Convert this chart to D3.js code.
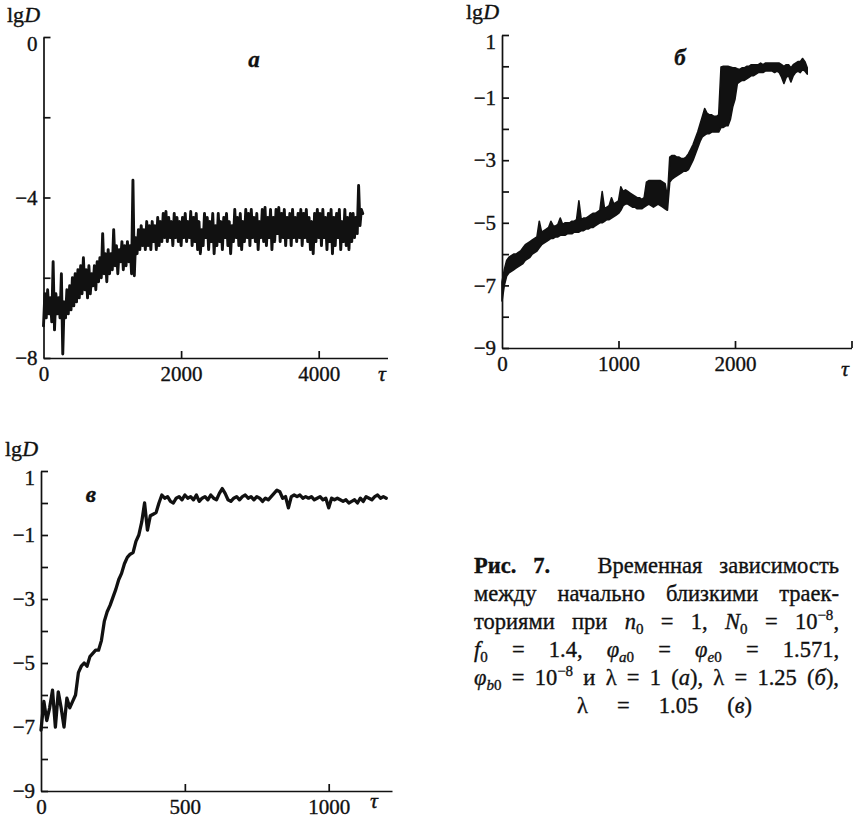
<!DOCTYPE html>
<html><head><meta charset="utf-8">
<script src="https://cdn.jsdelivr.net/npm/d3@7"></script>
<style>
body{margin:0;background:#fff}
svg text{font-family:"Liberation Serif","Times New Roman",serif;fill:#111;stroke:#111;stroke-width:0.35px}
</style></head><body>
<svg id="c" width="853" height="818"></svg>
<script>
// ---------- DATA ----------
// panel а : lgD vs τ, sampled every stepA
const stepA = 20;
const valuesA = [
 -7.2,-6.4,-7.0,-6.3,-6.9,-6.5,-7.1,-5.6,-7.3,-6.4,
 -6.9,-6.5,-7.0,-5.9,-7.9,-6.6,-7.0,-6.3,-6.9,-6.2,
 -6.8,-6.0,-6.7,-5.9,-6.6,-5.8,-6.5,-5.7,-6.4,-5.5,
 -6.3,-5.8,-6.5,-5.7,-6.4,-5.9,-6.2,-5.7,-6.3,-5.6,
 -6.1,-5.5,-6.0,-4.9,-5.9,-5.4,-6.1,-5.3,-5.9,-5.4,
 -5.8,-4.8,-5.7,-5.2,-5.9,-5.3,-5.6,-5.1,-5.8,-5.2,
 -5.7,-5.1,-5.6,-5.2,-5.9,-3.57,-5.95,-5.0,-5.4,-4.8,
 -5.3,-4.7,-5.2,-4.8,-5.3,-4.6,-5.2,-4.7,-5.3,-4.6,
 -5.1,-4.7,-5.3,-4.5,-5.2,-4.6,-5.1,-4.4,-5.0,-4.35,
 -5.1,-4.5,-5.0,-4.6,-5.2,-4.4,-5.0,-4.5,-5.1,-4.6,
 -5.2,-4.5,-5.0,-4.4,-5.1,-4.6,-5.0,-4.35,-5.2,-4.5,
 -5.1,-4.4,-5.3,-4.6,-5.4,-4.8,-5.2,-4.4,-5.0,-4.5,
 -5.3,-4.6,-5.1,-4.4,-5.4,-4.7,-5.2,-4.4,-5.1,-4.6,
 -5.3,-4.5,-5.0,-4.4,-5.2,-4.6,-5.4,-4.7,-5.1,-4.3,
 -5.0,-4.5,-5.2,-4.4,-5.3,-4.6,-5.1,-4.3,-5.0,-4.4,
 -5.2,-4.3,-5.0,-4.5,-5.1,-4.4,-5.3,-4.6,-5.0,-4.3,
 -5.1,-4.25,-5.2,-4.5,-5.0,-4.3,-5.3,-4.5,-5.1,-4.3,
 -4.9,-4.25,-5.1,-4.4,-5.0,-4.3,-5.2,-4.5,-5.0,-4.4,
 -5.2,-4.3,-5.0,-4.5,-5.1,-4.4,-5.0,-4.3,-5.2,-4.4,
 -5.0,-4.3,-5.1,-4.5,-5.3,-4.6,-5.4,-4.4,-5.1,-4.3,
 -5.0,-4.4,-5.2,-4.3,-5.0,-4.5,-5.3,-4.4,-5.1,-4.3,
 -5.4,-4.5,-5.2,-4.4,-5.0,-4.3,-5.3,-4.6,-5.1,-4.3,
 -5.2,-4.5,-5.3,-4.4,-5.1,-4.4,-5.0,-4.5,-4.9,-3.7,
 -4.7,-4.3,-4.4
];
// panel б : rapidly oscillating trace, given as upper / lower edge of its band, every stepB
const stepB = 20;
const upperB = [
 -6.9,-6.5,-6.2,-6.1,-6.05,-6.0,-6.0,-5.95,-5.9,-5.8,
 -5.7,-5.65,-5.6,-5.55,-5.5,-5.45,-4.95,-5.3,-5.25,-5.2,
 -5.15,-4.95,-5.1,-5.1,-5.05,-4.85,-5.05,-5.0,-5.0,-5.0,
 -4.95,-4.95,-4.9,-4.3,-4.9,-4.85,-4.85,-4.8,-4.75,-4.7,
 -4.7,-4.65,-4.6,-4.0,-4.55,-4.5,-4.45,-4.2,-4.4,-4.35,
 -4.3,-3.85,-4.0,-3.95,-4.0,-4.05,-4.1,-4.15,-4.2,-4.2,
 -4.25,-4.2,-3.7,-3.65,-3.65,-3.65,-3.65,-3.65,-3.65,-3.7,
 -3.75,-4.2,-2.9,-2.85,-2.85,-2.9,-2.9,-2.95,-2.95,-2.9,
 -2.8,-2.65,-2.5,-2.3,-2.1,-1.85,-1.6,-1.35,-1.5,-1.55,
 -1.55,-1.6,-1.6,-1.55,-0.02,0.0,0.0,0.0,-0.02,-0.05,
 -0.05,-0.08,-0.1,-0.05,-0.05,0.0,0.0,0.05,0.05,0.05,
 0.05,0.1,0.05,0.1,0.1,0.1,0.1,0.1,0.1,0.1,
 0.05,0.0,0.05,0.05,-0.05,0.05,0.1,0.15,0.15,0.25,
 0.15,-0.05
];
const lowerB = [
 -7.5,-7.0,-6.7,-6.6,-6.55,-6.5,-6.45,-6.4,-6.35,-6.3,
 -6.2,-6.15,-6.1,-6.0,-5.95,-5.9,-5.8,-5.7,-5.65,-5.6,
 -5.55,-5.5,-5.5,-5.45,-5.45,-5.4,-5.4,-5.4,-5.35,-5.35,
 -5.35,-5.3,-5.3,-5.3,-5.25,-5.25,-5.2,-5.2,-5.15,-5.15,
 -5.1,-5.05,-5.0,-5.0,-4.95,-4.9,-4.9,-4.85,-4.8,-4.75,
 -4.7,-4.6,-4.45,-4.4,-4.4,-4.45,-4.5,-4.5,-4.55,-4.55,
 -4.55,-4.5,-4.45,-4.4,-4.45,-4.5,-4.45,-4.4,-4.45,-4.5,
 -4.55,-4.6,-3.7,-3.6,-3.55,-3.5,-3.45,-3.4,-3.35,-3.35,
 -3.3,-3.15,-3.0,-2.8,-2.6,-2.4,-2.25,-2.2,-2.15,-2.15,
 -2.1,-2.1,-2.1,-2.1,-1.95,-1.95,-1.9,-1.9,-1.7,-1.3,
 -1.05,-0.55,-0.5,-0.45,-0.45,-0.4,-0.35,-0.3,-0.3,-0.25,
 -0.2,-0.2,-0.2,-0.15,-0.15,-0.15,-0.15,-0.2,-0.15,-0.2,
 -0.35,-0.55,-0.35,-0.3,-0.5,-0.3,-0.2,-0.15,-0.2,-0.1,
 -0.15,-0.25
];
// panel в
const stepC = 10;
const valuesC = [
 -7.1,-6.2,-6.8,-6.4,-5.85,-7.0,-5.9,-6.4,-7.0,-6.1,
 -6.4,-6.2,-6.0,-5.3,-5.1,-5.0,-5.1,-4.8,-4.7,-4.6,
 -4.6,-4.3,-3.7,-3.4,-3.2,-2.95,-2.7,-2.4,-2.2,-1.9,
 -1.7,-1.6,-1.55,-1.2,-1.0,-0.6,0.0,-0.85,-0.4,-0.35,
 -0.3,0.0,0.25,0.15,0.2,0.05,0.0,0.15,0.2,0.1,
 0.25,0.15,0.2,0.1,0.25,0.05,0.15,0.2,0.1,0.25,
 0.15,0.1,0.3,0.45,0.3,0.1,0.05,0.15,0.2,0.1,
 0.2,0.25,0.15,0.2,0.1,0.2,0.15,0.05,0.15,0.1,
 0.2,0.3,0.4,0.35,0.15,0.2,-0.15,0.2,0.25,0.2,
 0.25,0.15,0.2,0.15,0.2,0.1,0.15,0.2,0.1,0.15,
 -0.15,0.15,0.1,0.15,0.1,0.05,0.1,0.0,0.05,0.1,
 0.0,0.15,0.05,0.2,0.15,0.1,0.2,0.25,0.15,0.2,0.15
];
// ticks
const xTicksA = [0,2000,4000], xLabeledA = [0,2000,4000];
const yTicksA = [0,-2,-4,-6,-8], yLabeledA = [0,-4,-8];
const xTicksB = [0,1000,2000,3000], xLabeledB = [0,1000,2000];
const yTicksB = [1,0,-1,-2,-3,-4,-5,-6,-7,-8,-9], yLabeledB = [1,-1,-3,-5,-7,-9];
const xTicksC = [0,500,1000], xLabeledC = [0,500,1000];
const yTicksC = [1,0,-1,-2,-3,-4,-5,-6,-7,-8,-9], yLabeledC = [1,-1,-3,-5,-7,-9];
const panelLetters = ["а","б","в"];

// ---------- DRAW ----------
const svg = d3.select("#c");
const FONT = "Liberation Serif, Times New Roman, serif";

const panels = [
 {vals:valuesA, step:stepA, xDom:[0,5000], xR:[43.5,387.5], yDom:[-8,0], yR:[358,37],
  xT:xTicksA, xL:xLabeledA, yT:yTicksA, yL:yLabeledA, sw:2.9, tau:[382,381], lg:[7,22], let:[254,67]},
 {vals:upperB, low:lowerB, step:stepB, xDom:[0,3000], xR:[502,851.5], yDom:[-9,1], yR:[348,35],
  xT:xTicksB, xL:xLabeledB, yT:yTicksB, yL:yLabeledB, sw:1.6, tau:[845,376], lg:[466,19], let:[680,65]},
 {vals:valuesC, step:stepC, xDom:[0,1220], xR:[41,392], yDom:[-9,1], yR:[791,471],
  xT:xTicksC, xL:xLabeledC, yT:yTicksC, yL:yLabeledC, sw:3.3, tau:[374,808], lg:[5,456], let:[91,502]}
];

const fmt = d3.format("");
panels.forEach((p, pi) => {
  const x = d3.scaleLinear().domain(p.xDom).range(p.xR);
  const y = d3.scaleLinear().domain(p.yDom).range(p.yR);
  const g = svg.append("g");

  const yAx = d3.axisLeft(y).tickValues(p.yT).tickSize(-7).tickSizeOuter(0).tickPadding(6)
     .tickFormat(d => p.yL.includes(d) ? fmt(d) : "");
  const gy = g.append("g").attr("transform", `translate(${x(0)},0)`).call(yAx);
  const xAx = d3.axisBottom(x).tickValues(p.xT).tickSize(-7).tickSizeOuter(0).tickPadding(8)
     .tickFormat(d => p.xL.includes(d) ? fmt(d) : "");
  const gx = g.append("g").attr("transform", `translate(0,${y(p.yDom[0])})`).call(xAx);
  [gx, gy].forEach(a => {
    a.attr("font-size", 21).attr("font-family", FONT).attr("color", "#111");
    a.selectAll("path,line").attr("stroke-width", 1.7);
    a.selectAll("text").style("font-size", "21px");
  });
  gx.selectAll(".tick").filter(d => d === 0).select("line").remove();
  gy.selectAll(".tick").filter(d => d === p.yDom[1]).select("text").attr("dy", "0.62em");

  // series
  if (p.low) {
    const area = d3.area().x((d, i) => x(i * p.step)).y0((d, i) => y(p.low[i])).y1(d => y(d));
    g.append("path").datum(p.vals).attr("d", area)
      .attr("fill", "#111").attr("stroke", "#111").attr("stroke-width", p.sw)
      .attr("stroke-linejoin", "round");
  } else {
    const line = d3.line().x((d, i) => x(i * p.step)).y(d => y(d));
    g.append("path").datum(p.vals).attr("d", line)
      .attr("fill", "none").attr("stroke", "#111").attr("stroke-width", p.sw)
      .attr("stroke-linejoin", "round").attr("stroke-linecap", "round");
  }

  g.append("text").attr("x", p.tau[0]).attr("y", p.tau[1]).attr("text-anchor", "middle")
    .style("font-size", "22px").style("font-style", "italic").text("τ");
  const lg = g.append("text").attr("x", p.lg[0]).attr("y", p.lg[1]).style("font-size", "22px");
  lg.append("tspan").text("lg");
  lg.append("tspan").style("font-style", "italic").text("D");
  g.append("text").attr("x", p.let[0]).attr("y", p.let[1]).attr("text-anchor", "middle")
    .style("font-size", "23px").style("font-style", "italic").style("font-weight", "bold")
    .text(panelLetters[pi]);
});

// ---------- CAPTION ----------
const captionLines = [
 {tokens:[[["Рис.","b"]],[["7.","b"]],[["Временная",""]],[["зависимость",""]]], w:[1,2.8,1]},
 {tokens:[[["между",""]],[["начально",""]],[["близкими",""]],[["траек-",""]]]},
 {tokens:[[["ториями",""]],[["при",""]],[["n","i"],["0","sub"]],[["=",""]],[["1,",""]],[["N","i"],["0","sub"]],[["=",""]],[["10",""],["−8","sup"],[",",""]]]},
 {tokens:[[["f","i"],["0","sub"]],[["=",""]],[["1.4,",""]],[["φ","i"],["a","subi"],["0","sub"]],[["=",""]],[["φ","i"],["e","subi"],["0","sub"]],[["=",""]],[["1.571,",""]]]},
 {tokens:[[["φ","i"],["b","subi"],["0","sub"]],[["=",""]],[["10",""],["−8","sup"]],[["и",""]],[["λ",""]],[["=",""]],[["1",""]],[["(",""],["а","i"],["),",""]],[["λ",""]],[["=",""]],[["1.25",""]],[["(",""],["б","i"],["),",""]]]},
 {tokens:[[["λ",""]],[["=",""]],[["1.05",""]],[["(",""],["в","i"],[")",""]]], x0:577, x1:752}
];
const capBase = [573, 601, 629, 657, 685, 713];
const cap = svg.append("g");
captionLines.forEach((ln, li) => {
  const yb = capBase[li];
  const els = ln.tokens.map(tok => {
    const t = cap.append("text").attr("y", yb).style("font-size", "22.5px");
    let shift = 0;
    tok.forEach(([s, st]) => {
      const ts = t.append("tspan").text(s);
      let target = 0;
      if (st === "b") ts.style("font-weight", "bold");
      if (st === "i") ts.style("font-style", "italic");
      if (st === "sub" || st === "subi") { target = 5; ts.style("font-size", "15px"); if (st === "subi") ts.style("font-style", "italic"); }
      if (st === "sup") { target = -9; ts.style("font-size", "15px"); }
      if (target !== shift) ts.attr("dy", target - shift);
      shift = target;
    });
    return t;
  });
  const widths = els.map(e => e.node().getComputedTextLength());
  const x0 = ln.x0 ?? 474, x1 = ln.x1 ?? 839;
  const wts = ln.w ?? d3.range(els.length - 1).map(() => 1);
  const free = (x1 - x0) - d3.sum(widths);
  const unit = free / d3.sum(wts);
  let cx = x0;
  els.forEach((e, i) => {
    e.attr("x", cx);
    cx += widths[i] + (i < wts.length ? wts[i] * unit : 0);
  });
});
</script>
</body></html>
